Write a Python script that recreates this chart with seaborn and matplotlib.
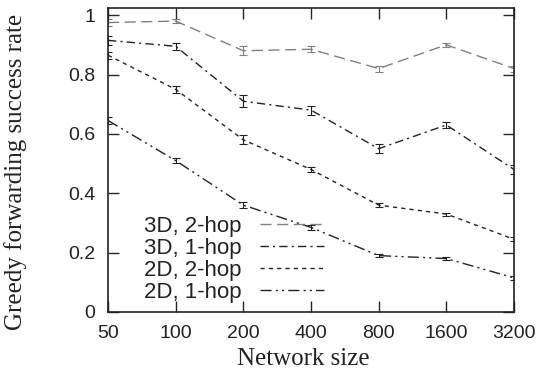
import numpy as np
import pandas as pd
import matplotlib
matplotlib.use("Agg")
import matplotlib.pyplot as plt
import seaborn as sns

# ===== Data =====
sizes = [50, 100, 200, 400, 800, 1600, 3200]
series_names = ["3D, 2-hop", "3D, 1-hop", "2D, 2-hop", "2D, 1-hop"]
rate_3d_2hop = [0.975, 0.980, 0.880, 0.885, 0.820, 0.900, 0.820]
rate_3d_1hop = [0.915, 0.895, 0.710, 0.680, 0.550, 0.630, 0.480]
rate_2d_2hop = [0.865, 0.750, 0.580, 0.480, 0.360, 0.330, 0.245]
rate_2d_1hop = [0.645, 0.510, 0.360, 0.285, 0.190, 0.180, 0.115]
err_3d_2hop = [0.012, 0.006, 0.015, 0.010, 0.010, 0.006, 0.010]
err_3d_1hop = [0.015, 0.012, 0.020, 0.015, 0.015, 0.010, 0.015]
err_2d_2hop = [0.012, 0.012, 0.015, 0.008, 0.006, 0.005, 0.006]
err_2d_1hop = [0.012, 0.008, 0.010, 0.008, 0.006, 0.005, 0.006]
y_ticks = [0, 0.2, 0.4, 0.6, 0.8, 1]

rates = [rate_3d_2hop, rate_3d_1hop, rate_2d_2hop, rate_2d_1hop]
errs = [err_3d_2hop, err_3d_1hop, err_2d_2hop, err_2d_1hop]
df = pd.concat([
    pd.DataFrame({"size": sizes, "rate": r, "err": e, "series": n})
    for n, r, e in zip(series_names, rates, errs)
], ignore_index=True)

colors = {"3D, 2-hop": "#808080", "3D, 1-hop": "#222222",
          "2D, 2-hop": "#222222", "2D, 1-hop": "#222222"}
dashes = {"3D, 2-hop": (8, 4), "3D, 1-hop": (6, 3, 1.5, 3),
          "2D, 2-hop": (3, 3), "2D, 1-hop": (8, 3, 1.5, 3, 1.5, 3)}

# ===== Plot =====
sns.set_style("ticks")
fig = plt.figure(figsize=(5.42, 3.85), dpi=100)
ax = fig.add_axes([108 / 542, (385 - 312) / 385, 406 / 542, 304 / 385])

sns.lineplot(data=df, x="size", y="rate", hue="series", style="series",
             palette=colors, dashes=dashes, linewidth=1.0, ax=ax,
             legend=True)
for n in series_names:
    d = df[df["series"] == n]
    ax.errorbar(d["size"], d["rate"], yerr=d["err"], fmt="none",
                ecolor=colors[n], elinewidth=0.8, capsize=3, capthick=0.8)

ax.set_xscale("log", base=2)
ax.set_xlim(50, 3200)
ax.set_ylim(0, 1.024)
ax.set_xticks(sizes)
ax.set_xticklabels([str(s) for s in sizes])
ax.minorticks_off()
ax.set_yticks(y_ticks)
ax.set_yticklabels([f"{t:g}" for t in y_ticks])
ax.tick_params(direction="in", length=8, width=1, top=True, right=True,
               labelsize=14, pad=9)
for lbl in ax.get_xticklabels() + ax.get_yticklabels():
    lbl.set_family("Liberation Sans")
    lbl.set_color("#222222")
for sp in ax.spines.values():
    sp.set_linewidth(1.2)
    sp.set_color("#222222")

ax.set_xlabel("Network size", family="Liberation Serif", fontsize=18,
              color="#222222")
ax.xaxis.set_label_coords(0.48, -0.118)
ax.set_ylabel("Greedy forwarding success rate", family="Liberation Serif",
              fontsize=18, color="#222222")
ax.yaxis.set_label_coords(-0.2, 0.46)

h, l = ax.get_legend_handles_labels()
leg = ax.legend(h, l, loc="lower left", bbox_to_anchor=(0.04, -0.036),
                frameon=False, markerfirst=False, handlelength=2.9,
                handletextpad=0.8, labelspacing=0.05,
                prop={"family": "Liberation Sans", "size": 16})
for t in leg.get_texts():
    t.set_color("#222222")

fig.savefig("out.png", dpi=100)
